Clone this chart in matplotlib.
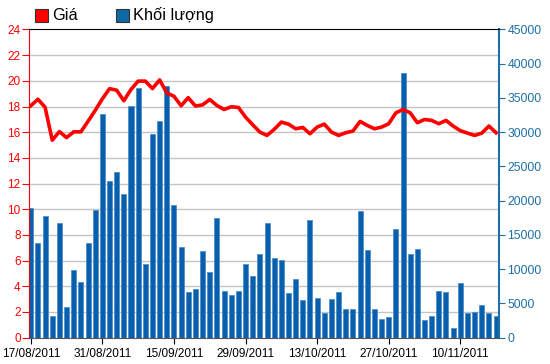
import matplotlib.pyplot as plt
import numpy as np

plt.rcParams['font.family'] = ['Liberation Sans', 'DejaVu Sans']

# giá đóng cửa (nghìn đồng) và khối lượng giao dịch theo phiên
gia = [18.06, 18.57, 17.94, 15.38, 16.05, 15.58, 16.03, 16.03, 16.85, 17.7,
       18.6, 19.39, 19.27, 18.45, 19.33, 19.98, 19.98, 19.4, 20.07, 19.06,
       18.8, 18.06, 18.69, 18.04, 18.13, 18.55, 18.08, 17.77, 17.98, 17.93,
       17.18, 16.58, 16.01, 15.75, 16.22, 16.79, 16.63, 16.27, 16.37, 15.88,
       16.4, 16.63, 16.01, 15.75, 15.96, 16.09, 16.84, 16.53, 16.27, 16.4,
       16.66, 17.51, 17.77, 17.51, 16.74, 16.99, 16.92, 16.66, 16.92, 16.48,
       16.12, 15.93, 15.75, 15.93, 16.48, 15.96]
khoi_luong = [18900, 13840, 17800, 3150, 16700, 4460, 9860, 8060, 13840, 18600,
              32600, 22900, 24200, 21000, 33800, 36500, 10800, 29800, 31700, 36800,
              19400, 13300, 6600, 7180, 12700, 9620, 17500, 6800, 6230, 6800,
              10800, 8940, 12200, 16700, 11700, 11270, 6470, 8600, 5490, 17250,
              5830, 3540, 5680, 6600, 4220, 4220, 18560, 12730, 4220, 2780,
              2960, 15840, 38600, 12200, 12900, 2570, 3150, 6800, 6600, 1370,
              8000, 3540, 3690, 4760, 3540, 3150]
nhan_ngay = ['17/08/2011', '31/08/2011', '15/09/2011', '29/09/2011',
             '13/10/2011', '27/10/2011', '10/11/2011']

red = '#ff0000'
blue = '#0860ad'
axis_blue = '#1f6fa6'

fig = plt.figure(figsize=(5.5, 3.64), dpi=100)
ax = fig.add_axes([0.0527, 0.0723, 0.8545, 0.8467])
ax2 = ax.twinx()

x = np.arange(len(gia))

# bars on the volume axis, drawn below the price line
ax2.bar(x, khoi_luong, width=0.7, color=blue, edgecolor='#4f8fcc', linewidth=0.6, zorder=2)
ax2.set_ylim(0, 45000)
ax2.set_yticks(range(0, 45001, 5000))

ax.set_zorder(ax2.get_zorder() + 1)
ax.patch.set_visible(False)
ax.plot(x, gia, color=red, linewidth=2.6, zorder=3, solid_joinstyle='round')
ax.set_ylim(0, 24)
ax.set_yticks(range(0, 25, 2))
ax.set_xlim(-0.25, len(gia) - 0.6)

# gridlines behind the bars
ax2.set_axisbelow(True)
for v in range(2, 24, 2):
    ax2.axhline(v * 45000 / 24, color='#c4c4c4', linewidth=1.0, zorder=0)

ax.set_xticks(range(0, len(gia), 10))
ax.set_xticklabels(nhan_ngay)

ax.tick_params(axis='y', colors=red, labelsize=8.5, length=5, pad=1)
ax2.tick_params(axis='y', colors=axis_blue, labelsize=8.8, length=4, pad=2)
ax.tick_params(axis='x', colors='black', labelsize=8.5, length=4, pad=3.5)

ax.spines['left'].set_color(red)
ax.spines['right'].set_visible(False)
ax.spines['top'].set_color('black')
ax.spines['bottom'].set_color('#555555')
ax2.spines['right'].set_color(axis_blue)
ax2.spines['right'].set_linewidth(1.5)
ax2.spines['left'].set_visible(False)
ax2.spines['top'].set_visible(False)
ax2.spines['bottom'].set_visible(False)

# legend at top
fig.patches.append(plt.Rectangle((35 / 550, 1 - 22 / 364), 13 / 550, 13 / 364,
                                 transform=fig.transFigure, facecolor=red,
                                 edgecolor='#333333', linewidth=0.8))
fig.text(52 / 550, 1 - 15 / 364, 'Giá', fontsize=11.8, va='center')
fig.patches.append(plt.Rectangle((116 / 550, 1 - 22 / 364), 13 / 550, 13 / 364,
                                 transform=fig.transFigure, facecolor='#0d6aa3',
                                 edgecolor='#333333', linewidth=0.8))
fig.text(133 / 550, 1 - 15 / 364, 'Khối lượng', fontsize=11.8, va='center')

fig.savefig('out.png', dpi=100)
